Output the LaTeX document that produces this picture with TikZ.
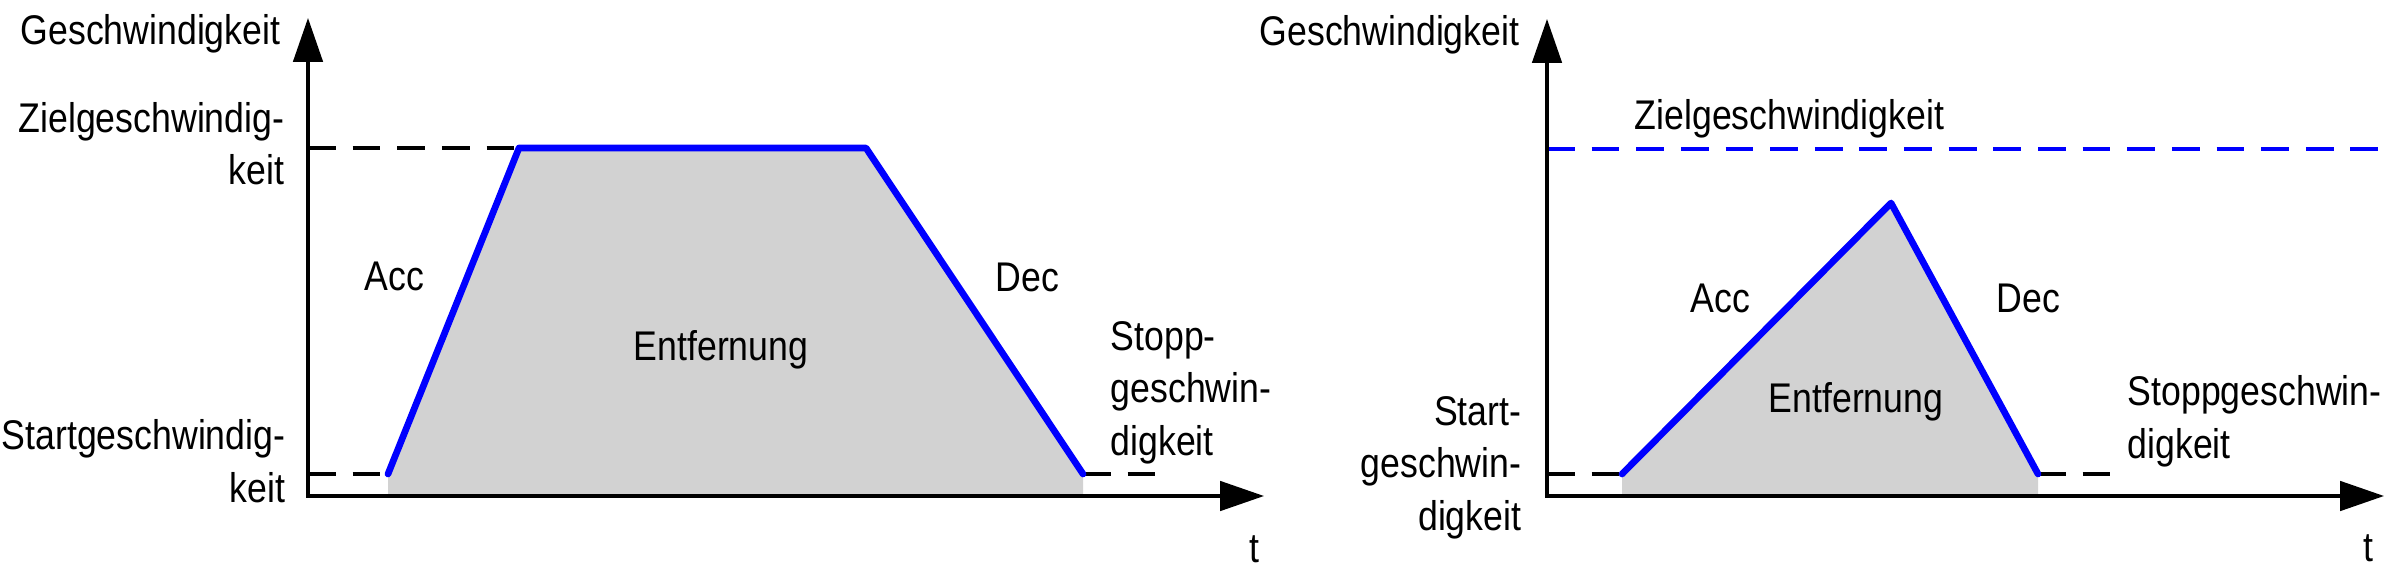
\documentclass[tikz,border=0pt]{standalone}
\usepackage{fontspec}
\setmainfont{Liberation Sans}[FakeStretch=0.86]
\usetikzlibrary{arrows.meta}
\definecolor{areagray}{RGB}{210,210,210}
\definecolor{speedblue}{RGB}{0,0,255}

\begin{document}
\begin{tikzpicture}[x=0.1mm,y=-0.1mm,
    lbl/.style={inner sep=0pt,font=\fontsize{11.8pt}{14.9pt}\selectfont},
    axis/.style={line width=0.95pt,{Triangle[length=4.4mm,width=2.95mm]}-{Triangle[length=4.4mm,width=2.95mm]}},
    guide/.style={line width=0.95pt,dash pattern=on 7.9pt off 4.8pt},
    profile/.style={speedblue,line width=1.9pt,line cap=round,line join=round}]
    \useasboundingbox (0,0) rectangle (2386,577);

    \coordinate (ytopL) at (308,18);
    \coordinate (oL) at (308,496);
    \coordinate (xendL) at (1264,496);
    \coordinate (aL) at (388,474);
    \coordinate (bL) at (519,148);
    \coordinate (cL) at (866,148);
    \coordinate (dL) at (1083,474);
    \coordinate (sL) at (1162,474);

    \fill[areagray] (aL) -- (bL) -- (cL) -- (dL) -- (dL |- oL) -- (aL |- oL) -- cycle;
    \draw[guide] (oL |- bL) -- (bL);
    \draw[guide] (oL |- aL) -- (aL);
    \draw[guide] (dL) -- (sL);
    \draw[axis] (ytopL) -- (oL) -- (xendL);
    \draw[profile] (aL) -- (bL) -- (cL) -- (dL);

    \node[lbl,anchor=base east] (vL) at (281,45) {Geschwindigkeit};
    \node[lbl,anchor=base east,align=right] (zielL) at (285,185) {Zielgeschwindig-\\keit};
    \node[lbl,anchor=base east,align=right] (startL) at (286,502) {Startgeschwindig-\\keit};
    \node[lbl,anchor=base west] (accL) at (364,290) {Acc};
    \node[lbl,anchor=base] (distL) at (721,360) {Entfernung};
    \node[lbl,anchor=base west] (decL) at (995,291) {Dec};
    \node[lbl,anchor=base west,align=left] (stopL) at (1110,455) {Stopp-\\geschwin-\\digkeit};
    \node[lbl,anchor=base] (tL) at (1254,562) {t};

    \coordinate (ytopR) at (1547,19);
    \coordinate (oR) at (1547,496);
    \coordinate (xendR) at (2384,496);
    \coordinate (aR) at (1622,474);
    \coordinate (pR) at (1891,203);
    \coordinate (dR) at (2038,474);
    \coordinate (sR) at (2116,474);
    \coordinate (zR) at (2386,149);

    \fill[areagray] (aR) -- (pR) -- (dR) -- (dR |- oR) -- (aR |- oR) -- cycle;
    \draw[guide,speedblue] (oR |- zR) -- (zR);
    \draw[guide] (oR |- aR) -- (aR);
    \draw[guide] (dR) -- (sR);
    \draw[axis] (ytopR) -- (oR) -- (xendR);
    \draw[profile] (aR) -- (pR) -- (dR);

    \node[lbl,anchor=base east] (vR) at (1520,46) {Geschwindigkeit};
    \node[lbl,anchor=base west] (zielR) at (1634,130) {Zielgeschwindigkeit};
    \node[lbl,anchor=base east,align=right] (startR) at (1522,530) {Start-\\geschwin-\\digkeit};
    \node[lbl,anchor=base west] (accR) at (1690,312) {Acc};
    \node[lbl,anchor=base west] (decR) at (1996,312) {Dec};
    \node[lbl,anchor=base] (distR) at (1856,412) {Entfernung};
    \node[lbl,anchor=base west,align=left] (stopR) at (2127,458) {Stoppgeschwin-\\digkeit};
    \node[lbl,anchor=base] (tR) at (2368,561) {t};
\end{tikzpicture}
\end{document}
